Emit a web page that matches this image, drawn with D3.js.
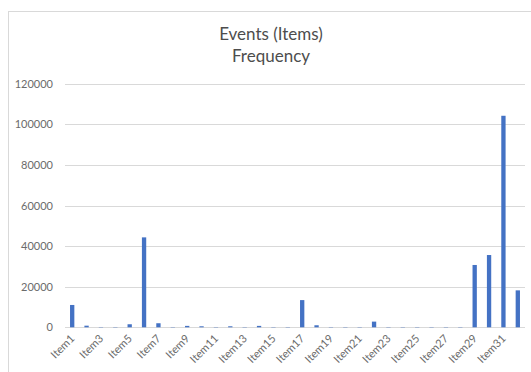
<!DOCTYPE html>
<html><head><meta charset="utf-8">
<script src="https://cdn.jsdelivr.net/npm/d3@7/dist/d3.min.js"></script>
<style>body{margin:0;background:#fff;}svg{display:block;}</style>
</head><body>
<script>
const categories = d3.range(1, 33).map(i => "Item" + i);
const values = [11000, 800, 150, 150, 1500, 44300, 2000, 150, 700, 500, 150, 500,
                150, 700, 150, 150, 13400, 1000, 150, 150, 150, 2800, 150, 150,
                150, 150, 150, 150, 30700, 35600, 104200, 18200];
const yTicks = [0, 20000, 40000, 60000, 80000, 100000, 120000];
const titleLines = ["Events (Items)", "Frequency"];

const W = 531, H = 372;
const svg = d3.select("body").append("svg").attr("width", W).attr("height", H);
const font = "Lato, 'Open Sans', sans-serif";

// chart frame
svg.append("rect").attr("x", 8.5).attr("y", 11.5).attr("width", 540).attr("height", 400)
  .attr("fill", "#fff").attr("stroke", "#d9d9d9").attr("stroke-width", 1);

const m = {left: 65, right: 525, top: 83.7, bottom: 327.3};
const x = d3.scaleBand().domain(categories).range([m.left, m.right]).paddingInner(0.7).paddingOuter(0.35);
const y = d3.scaleLinear().domain([0, 120000]).range([m.bottom, m.top]);

// gridlines
svg.append("g").selectAll("line").data(yTicks).join("line")
  .attr("x1", m.left).attr("x2", m.right)
  .attr("y1", d => Math.round(y(d)) + 0.5).attr("y2", d => Math.round(y(d)) + 0.5)
  .attr("stroke", "#d9d9d9").attr("stroke-width", 1);

// y axis labels
const yAxis = d3.axisLeft(y).tickValues(yTicks).tickSize(0).tickPadding(0).tickFormat(d3.format("d"));
const gy = svg.append("g").attr("transform", `translate(${m.left - 12},0)`).call(yAxis);
gy.select(".domain").remove();
gy.selectAll("text").attr("fill", "#6b6b6b").attr("font-family", font).attr("font-size", 11);

// bars
svg.append("g").selectAll("rect").data(values).join("rect")
  .attr("x", (d, i) => x(categories[i]))
  .attr("width", x.bandwidth())
  .attr("y", d => y(d))
  .attr("height", d => y(0) - y(d))
  .attr("fill", "#4472c4");

// x axis labels (every other)
const xAxis = d3.axisBottom(x).tickSize(0).tickValues(categories.filter((d, i) => i % 2 === 0));
const gx = svg.append("g").attr("transform", `translate(0,${m.bottom})`).call(xAxis);
gx.select(".domain").remove();
gx.selectAll("text")
  .attr("fill", "#6b6b6b").attr("font-family", font).attr("font-size", 11)
  .attr("text-anchor", "end").attr("dy", null).attr("y", 0)
  .attr("transform", "translate(3,12) rotate(-45)");

// title
svg.append("g").selectAll("text").data(titleLines).join("text")
  .attr("x", 271).attr("y", (d, i) => 40 + i * 22)
  .attr("text-anchor", "middle").attr("fill", "#4d4d4d")
  .attr("font-family", font).attr("font-size", 17)
  .text(d => d);
</script>
</body></html>
